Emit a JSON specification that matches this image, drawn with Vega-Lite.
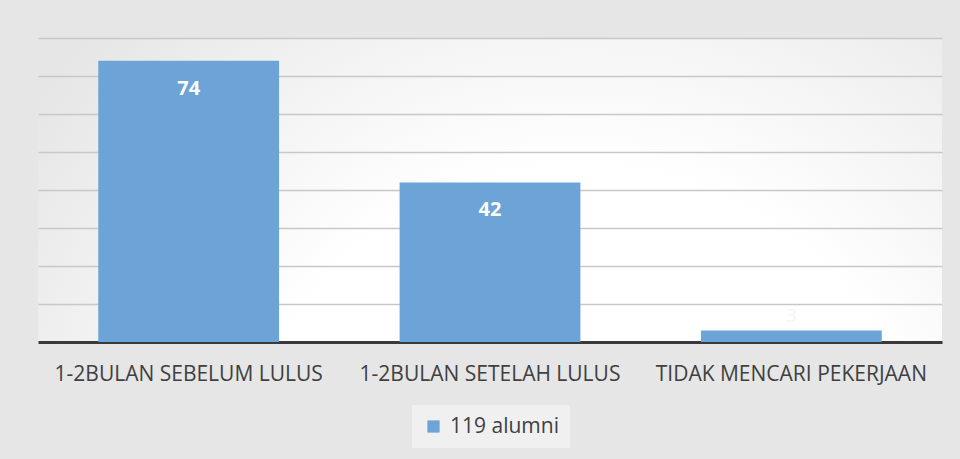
{
  "$schema": "https://vega.github.io/schema/vega-lite/v6.json",
  "width": 904,
  "height": 304,
  "padding": {"left": 38, "top": 38, "right": 18, "bottom": 13},
  "background": "#e6e6e6",
  "data": {
    "values": [
      {"kategori": "1-2BULAN SEBELUM LULUS", "jumlah": 74, "seri": "119 alumni"},
      {"kategori": "1-2BULAN SETELAH LULUS", "jumlah": 42, "seri": "119 alumni"},
      {"kategori": "TIDAK MENCARI PEKERJAAN", "jumlah": 3, "seri": "119 alumni"}
    ]
  },
  "encoding": {
    "x": {
      "field": "kategori",
      "type": "nominal",
      "sort": null,
      "scale": {"paddingInner": 0.4, "paddingOuter": 0.2},
      "axis": {
        "title": null,
        "labelAngle": 0,
        "labelFont": "Open Sans",
        "labelFontSize": 21,
        "labelColor": "#404040",
        "labelPadding": 21,
        "ticks": false,
        "domain": true,
        "domainColor": "#3a3a3a",
        "domainWidth": 3,
        "grid": false,
        "labelLimit": 400
      }
    },
    "y": {
      "field": "jumlah",
      "type": "quantitative",
      "scale": {"domain": [0, 80], "nice": false},
      "axis": {
        "title": null,
        "labels": false,
        "ticks": false,
        "domain": false,
        "grid": true,
        "gridColor": "#c8c8c8",
        "gridWidth": 1.5,
        "values": [10, 20, 30, 40, 50, 60, 70, 80]
      }
    }
  },
  "layer": [
    {
      "mark": {"type": "bar", "color": "#6ca4d8"},
      "encoding": {
        "color": {
          "field": "seri",
          "type": "nominal",
          "scale": {"range": ["#6ca4d8"]},
          "legend": {
            "title": null,
            "orient": "none",
            "legendX": 374,
            "legendY": 367,
            "direction": "horizontal",
            "symbolType": "square",
            "symbolSize": 150,
            "symbolStrokeWidth": 0,
            "labelFont": "Open Sans",
            "labelFontSize": 21,
            "labelColor": "#404040",
            "labelOffset": 6,
            "padding": 11,
            "fillColor": "#f0f0f0"
          }
        }
      }
    },
    {
      "transform": [{"filter": "datum.jumlah >= 10"}],
      "mark": {"type": "text", "baseline": "middle", "dy": 28, "font": "Open Sans", "fontSize": 20, "fontWeight": "bold", "color": "#ffffff"},
      "encoding": {"text": {"field": "jumlah", "type": "quantitative"}}
    },
    {
      "transform": [{"filter": "datum.jumlah < 10"}],
      "mark": {"type": "text", "baseline": "bottom", "dy": -5, "font": "Open Sans", "fontSize": 19, "color": "#f4f4f4"},
      "encoding": {"text": {"field": "jumlah", "type": "quantitative"}}
    }
  ],
  "config": {
    "view": {
      "stroke": null,
      "fill": {
        "gradient": "radial",
        "x1": 0.6, "y1": 0.85, "r1": 0,
        "x2": 0.6, "y2": 0.85, "r2": 0.75,
        "stops": [
          {"offset": 0, "color": "#ffffff"},
          {"offset": 0.5, "color": "#ffffff"},
          {"offset": 1, "color": "#e6e6e6"}
        ]
      }
    }
  }
}
